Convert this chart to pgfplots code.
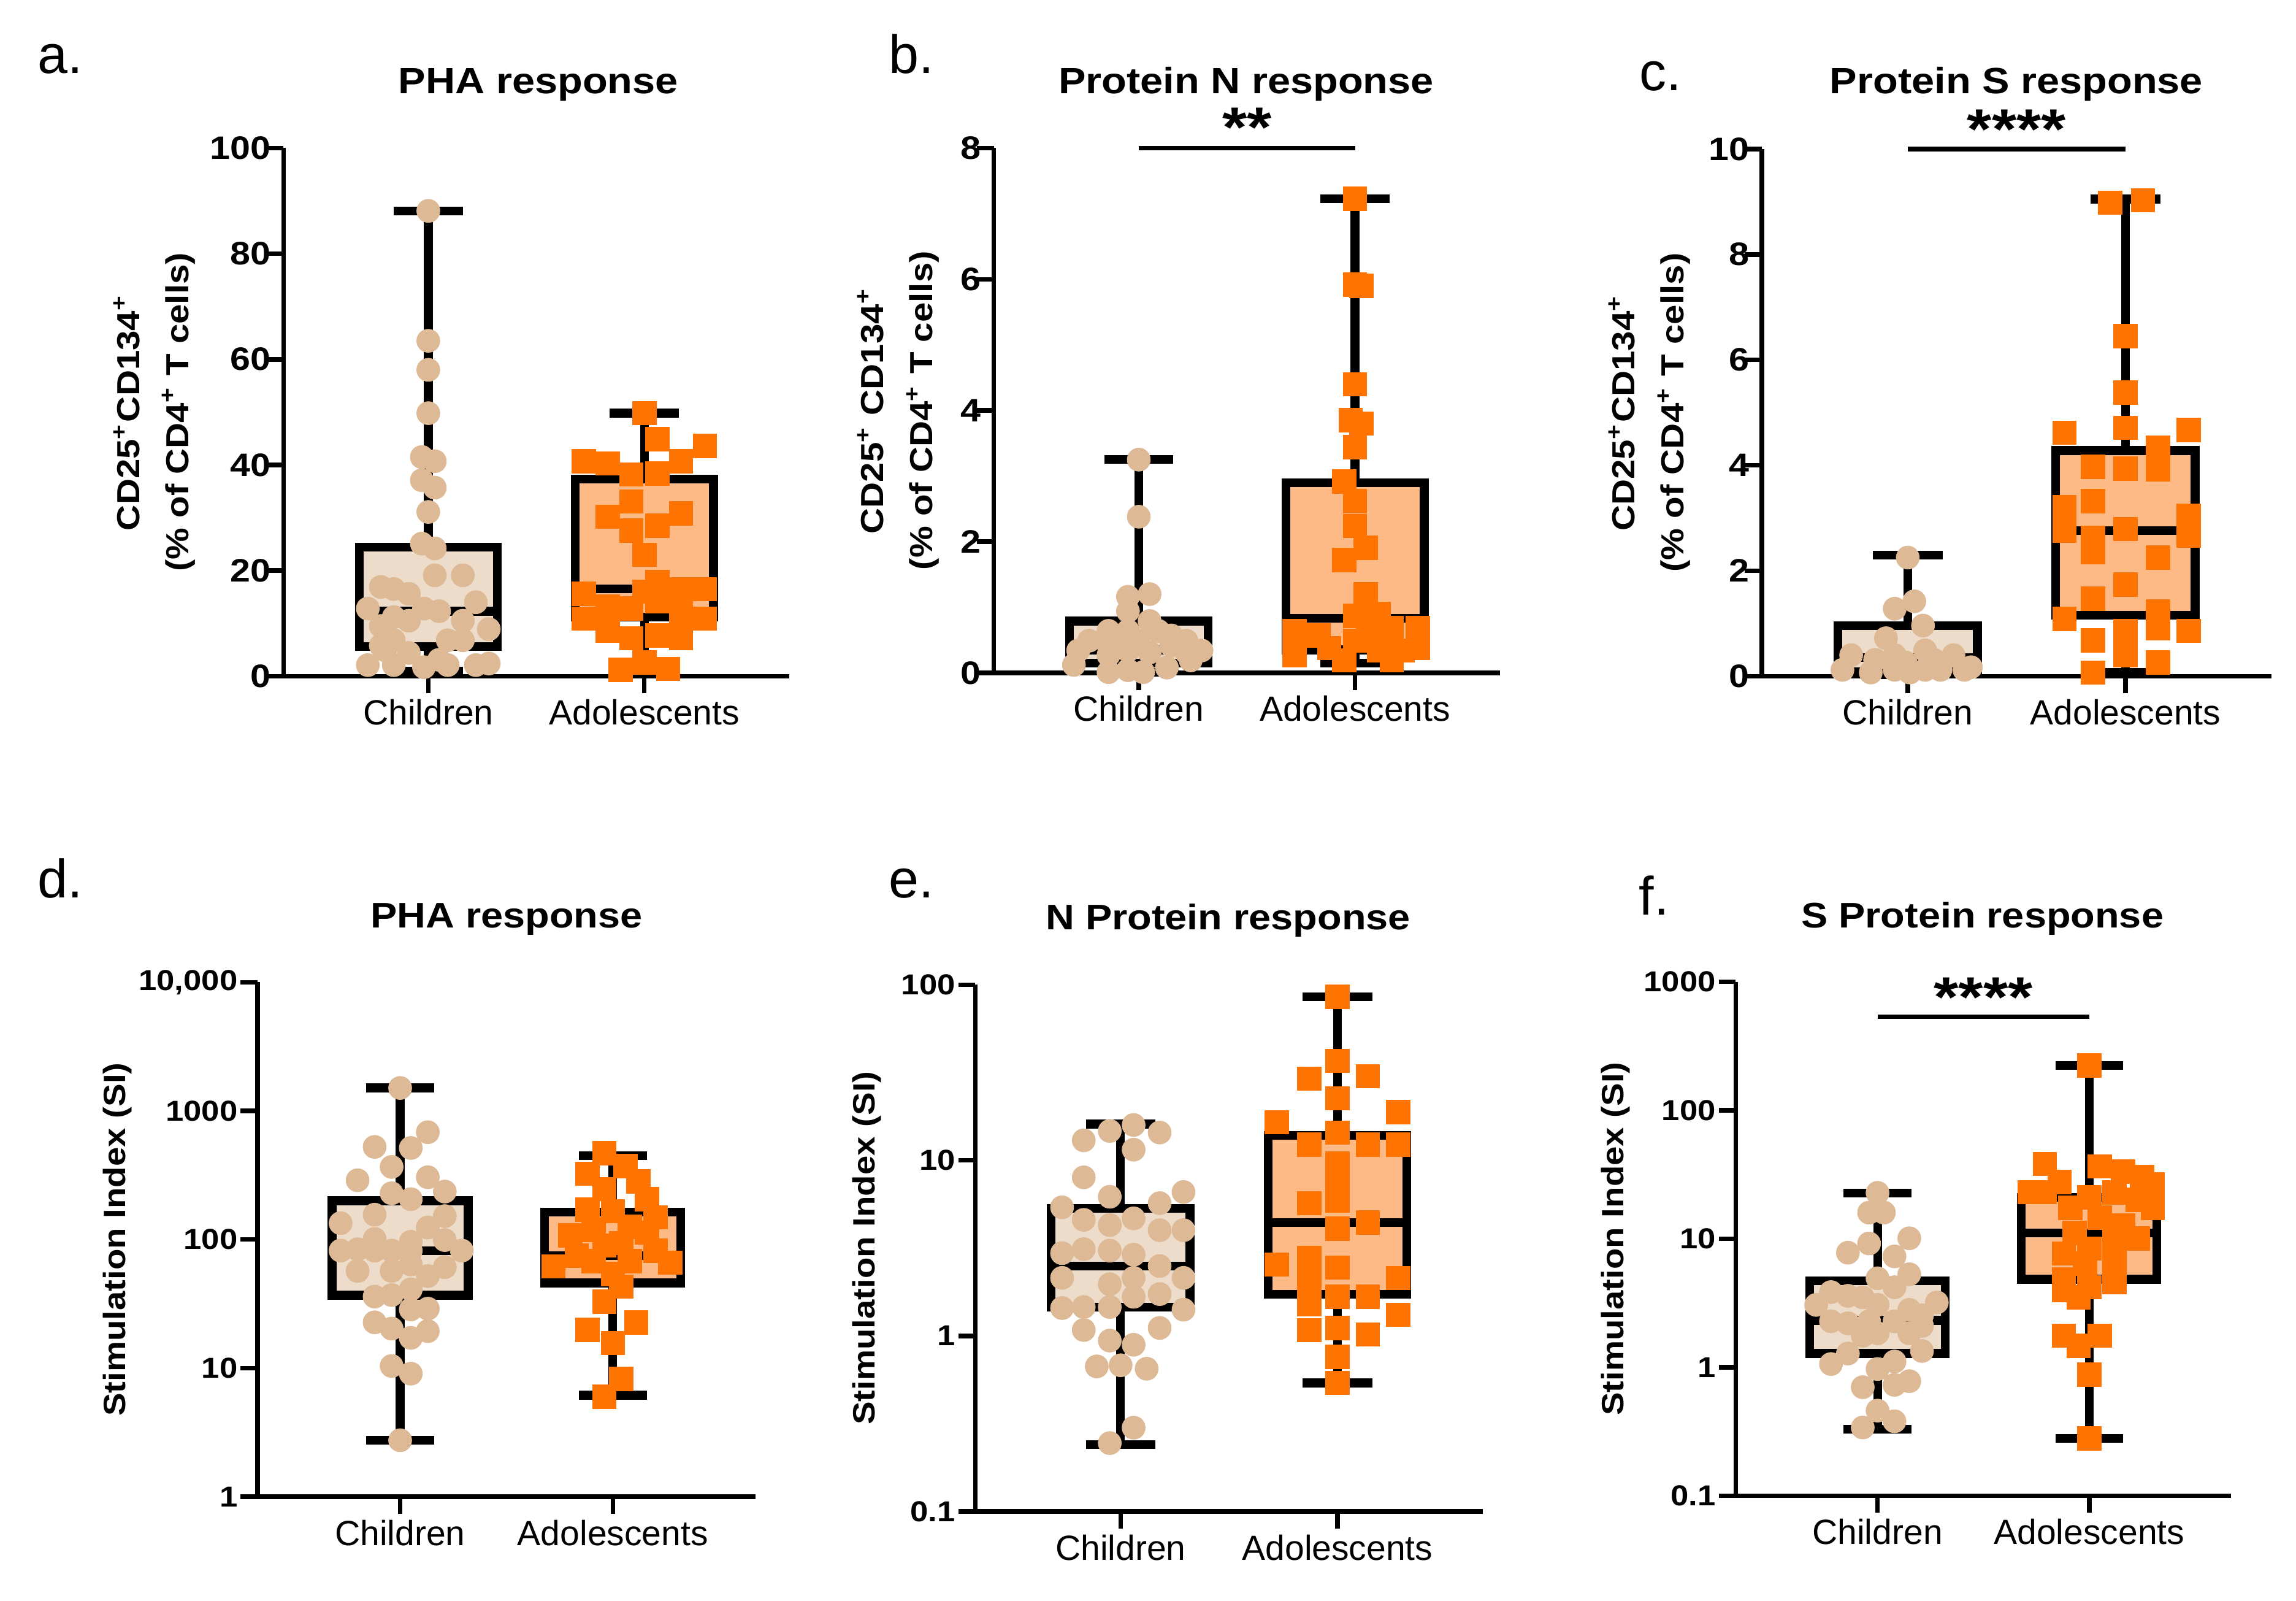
\documentclass[border=0pt]{standalone}
\usepackage{fontspec}
\setmainfont{Liberation Sans}[BoldFeatures={FakeStretch=1.12}]
\usepackage{pgfplots}
\pgfplotsset{compat=1.18}
\usepgfplotslibrary{statistics}

\definecolor{kidc}{HTML}{DDB995}
\definecolor{kidfill}{HTML}{EEDCCA}
\definecolor{adoc}{HTML}{FF7300}
\definecolor{adofill}{HTML}{FDB986}

\pgfplotsset{
  panel/.style={
    scale only axis, anchor=south west, clip=false,
    axis x line=bottom, axis y line=left,
    axis line style={-, line width=0.9pt},
    tick style={black, line width=0.9pt},
    tick align=outside, major tick length=3.3pt,
    enlargelimits=false,
    xmin=-0.67, xmax=1.67, xtick={0,1}, xticklabels={Children,Adolescents},
    xticklabel style={font=\fontsize{6.8}{8}\selectfont, inner sep=1pt},
    /pgf/number format/assume math mode=true,
    ylabel style={align=center, anchor=center},
    boxplot/draw direction=y,
    boxplot/box extend=0.64,
    boxplot/whisker extend=0.32,
  },
  toprow/.style={
    yticklabel style={font=\bfseries\fontsize{6.3}{7.5}\selectfont, inner sep=0.4pt, xshift=0.05cm},
    ylabel style={font=\bfseries\fontsize{6.2}{9.5}\selectfont},
  },
  lowrow/.style={
    yminorticks=false,
    yticklabel style={font=\bfseries\fontsize{5.6}{6.5}\selectfont, inner sep=0.4pt},
    ylabel style={font=\bfseries\fontsize{6.0}{7}\selectfont},
    ylabel={Stimulation Index (SI)},
  },
  kidbx/.style={draw=black, line width=1.7pt, fill=kidfill},
  adobx/.style={draw=black, line width=1.7pt, fill=adofill},
  kidpts/.style={only marks, mark=*, mark size=2.25pt, draw=kidc, fill=kidc,
    mark options={solid, draw=kidc, fill=kidc, line width=0.1pt}},
  adopts/.style={only marks, mark=square*, mark size=2.3pt, draw=adoc, fill=adoc,
    mark options={solid, draw=adoc, fill=adoc, line width=0.1pt}},
}

\begin{document}
\begin{tikzpicture}
\useasboundingbox (0,0) rectangle (15.68,10.93);

% ---------- a. PHA response (% of CD4+) ----------
\begin{axis}[panel, toprow, at={(1.9365cm,6.3134cm)}, width=3.4522cm, height=3.6059cm,
  ymin=0, ymax=100, ytick={0,20,...,100},
  ylabel={CD25\textsuperscript{+}CD134\textsuperscript{+}\\(\% of CD4\textsuperscript{+} T cells)},
  ylabel style={at={(axis description cs:-0.256,0.5)}}]
\addplot[kidbx, boxplot prepared={draw position=0, lower whisker=1, lower quartile=5.6, median=12.3, upper quartile=24.4, upper whisker=88.1}] coordinates {};
\addplot[adobx, boxplot prepared={draw position=1, lower whisker=1.2, lower quartile=11.2, median=16.5, upper quartile=37.3, upper whisker=49.8}] coordinates {};
\addplot[kidpts] coordinates {
(0,88.1) (0,63.5) (0,58.0) (0,49.8) (-0.03,41.5) (0.03,40.7) (-0.03,37.1) (0.03,35.7)
(0,31.1) (-0.03,25.1) (0.03,24.2) (0.03,19.1) (0.16,19.1) (-0.22,16.9) (-0.16,16.5)
(-0.09,15.6) (0.22,14.0) (-0.28,12.8) (-0.02,12.8) (0.05,12.3) (-0.22,9.5) (-0.16,11.2)
(-0.09,10.5) (0.16,10.5) (0.28,8.9) (0.09,6.8) (0.16,6.8) (-0.22,5.8) (-0.16,6.8)
(-0.2,4.9) (-0.09,4.4) (-0.28,2.1) (-0.16,2.1) (-0.02,1.7) (0.09,2.1) (0.22,2.1)
(0.28,2.4) (0.05,3.1)
};
\addplot[adopts] coordinates {
(1,49.8) (1.06,44.9) (1.28,43.6) (0.72,40.7) (0.83,40.3) (1.17,40.7) (0.94,38.2)
(1.06,38.4) (0.94,33.1) (0.83,30.2) (1.17,30.8) (0.94,27.6) (1.06,28.5) (1,23.0)
(1.06,17.9) (0.72,15.6) (1,16.0) (1.17,16.5) (1.28,16.5) (0.83,13.2) (0.94,12.8)
(1.06,14.2) (1.17,13.2) (0.72,10.9) (1.17,11.2) (1.28,10.9) (0.83,8.6) (0.94,7.2)
(1.06,7.7) (1.17,7.2) (1,2.6) (0.89,1.2) (1.11,1.4)
};
\end{axis}

% ---------- b. Protein N response (% of CD4+) ----------
\begin{axis}[panel, toprow, at={(6.7875cm,6.3364cm)}, width=3.4555cm, height=3.5828cm,
  ymin=0, ymax=8, ytick={0,2,...,8},
  ylabel={CD25\textsuperscript{+} CD134\textsuperscript{+}\\(\% of CD4\textsuperscript{+} T cells)},
  ylabel style={at={(axis description cs:-0.189,0.5)}}]
\addplot[kidbx, boxplot prepared={draw position=0, lower whisker=0.01, lower quartile=0.15, median=0.35, upper quartile=0.79, upper whisker=3.25}] coordinates {};
\addplot[adobx, boxplot prepared={draw position=1, lower whisker=0.15, lower quartile=0.35, median=0.83, upper quartile=2.9, upper whisker=7.23}] coordinates {};
\addplot[kidpts] coordinates {
(0,3.25) (0,2.38) (-0.05,1.16) (0.05,1.2) (-0.05,0.94) (0.05,0.79) (-0.14,0.64)
(-0.05,0.64) (0.15,0.57) (-0.23,0.49) (-0.14,0.42) (0,0.49) (0.15,0.42) (0.22,0.49)
(-0.28,0.34) (-0.14,0.27) (-0.05,0.34) (0.05,0.31) (0.22,0.31) (0.29,0.34) (-0.3,0.12)
(-0.14,0.01) (-0.05,0.04) (0.02,0.01) (0.13,0.08) (0.24,0.19) (-0.1,0.53) (0.09,0.64)
};
\addplot[adopts] coordinates {
(1,7.23) (1,5.92) (1.03,5.9) (1,4.4) (0.98,3.85) (1.03,3.8) (1,3.44) (0.95,2.92)
(1,2.62) (1,2.24) (1.05,1.91) (0.95,1.72) (1.05,1.2) (1.11,0.9) (1,0.87) (0.72,0.64)
(1.17,0.68) (1.29,0.68) (0.83,0.57) (1.06,0.57) (0.72,0.34) (0.88,0.38) (1,0.49)
(1.11,0.34) (1.22,0.34) (1.29,0.38) (0.95,0.19) (1.17,0.19) (0.72,0.27)
};
\draw[line width=0.9pt] (axis cs:0,8) -- (axis cs:1,8);
\node[anchor=base, font=\bfseries\fontsize{11}{12}\selectfont, yshift=0.01cm] at (axis cs:0.5,8) {**};
\end{axis}

% ---------- c. Protein S response (% of CD4+) ----------
\begin{axis}[panel, toprow, at={(12.0321cm,6.3134cm)}, width=3.4794cm, height=3.5996cm,
  ymin=0, ymax=10, ytick={0,2,...,10},
  ylabel={CD25\textsuperscript{+}CD134\textsuperscript{+}\\(\% of CD4\textsuperscript{+} T cells)},
  ylabel style={at={(axis description cs:-0.221,0.5)}}]
\addplot[kidbx, boxplot prepared={draw position=0, lower whisker=0.03, lower quartile=0.08, median=0.35, upper quartile=0.96, upper whisker=2.3}] coordinates {};
\addplot[adobx, boxplot prepared={draw position=1, lower whisker=0.07, lower quartile=1.16, median=2.76, upper quartile=4.28, upper whisker=9.05}] coordinates {};
\addplot[kidpts] coordinates {
(0,2.25) (0.03,1.42) (-0.06,1.28) (0.07,0.96) (-0.1,0.72) (-0.26,0.4) (-0.06,0.4)
(0.08,0.49) (0.21,0.4) (-0.3,0.12) (-0.17,0.07) (-0.06,0.12) (0.01,0.07) (0.08,0.12)
(0.15,0.12) (0.26,0.12) (0.29,0.17) (-0.15,0.31) (-0.01,0.26) (0.12,0.31)
};
\addplot[adopts] coordinates {
(0.93,8.98) (1.08,9.03) (1,6.45) (1,5.38) (0.72,4.62) (1,4.71) (1.29,4.67) (1.15,4.34)
(0.85,3.97) (1,3.94) (1.15,3.92) (0.72,3.21) (0.85,3.32) (1.29,3.04) (0.72,2.76)
(1,2.79) (1.29,2.67) (0.85,2.63) (0.85,2.35) (1.15,2.25) (1,1.74) (0.85,1.47)
(0.72,1.09) (1.15,1.23) (1,0.86) (1.15,0.91) (1.29,0.86) (0.85,0.68) (1,0.4)
(0.85,0.07) (1.15,0.26)
};
\draw[line width=0.9pt] (axis cs:0,10) -- (axis cs:1,10);
\node[anchor=base, font=\bfseries\fontsize{11}{12}\selectfont, yshift=0cm] at (axis cs:0.5,10) {****};
\end{axis}

% ---------- d. PHA response (SI) ----------
\begin{axis}[panel, lowrow, ymode=log, at={(1.7594cm,0.7111cm)}, width=3.399cm, height=3.5125cm,
  ymin=1, ymax=10000, ytick={1,10,100,1000,10000}, yticklabels={1,10,100,1000,{10,000}},
  ylabel style={at={(axis description cs:-0.282,0.5)}}]
\addplot[kidbx, boxplot prepared={draw position=0, lower whisker=2.75, lower quartile=36.9, median=82, upper quartile=200, upper whisker=1508}] coordinates {};
\addplot[adobx, boxplot prepared={draw position=1, lower whisker=6.16, lower quartile=46, median=75, upper quartile=163, upper whisker=449}] coordinates {};
\addplot[kidpts] coordinates {
(0,1508) (0.13,683) (-0.12,525) (0.05,515) (-0.04,367) (-0.2,289) (0.13,305) (0.21,236)
(-0.04,229) (0.05,206) (-0.12,156) (0.21,152) (-0.28,134) (0.13,124) (-0.12,101)
(0.05,96) (0.21,99) (-0.28,82) (-0.2,84) (-0.12,82) (-0.04,82) (0.05,82) (0.29,82)
(-0.2,57) (-0.04,57) (0.05,64) (0.13,52) (0.21,61) (-0.12,36) (-0.04,37) (0.05,41)
(0.05,28.6) (0.13,29) (-0.12,22.7) (-0.04,20.3) (0.05,17.2) (0.13,19.4) (-0.04,10.4)
(0.05,9.06) (0,2.75)
};
\addplot[adopts] coordinates {
(0.96,470) (1.06,373) (0.88,325) (1.12,284) (0.96,247) (1.16,206) (0.88,171) (1,166)
(1.2,149) (0.8,108) (0.91,119) (1.08,126) (1.16,113) (0.96,90) (1.04,94) (0.72,62)
(0.83,75) (1.2,82) (0.91,68) (1.08,68) (1.27,66) (1,54) (1.04,43) (0.96,33)
(0.88,19.8) (1.11,22.7) (1,15.7) (1.04,8.26) (0.96,6.0)
};
\end{axis}

% ---------- e. N Protein response (SI) ----------
\begin{axis}[panel, lowrow, ymode=log, at={(6.6606cm,0.6110cm)}, width=3.4656cm, height=3.5958cm,
  ymin=0.1, ymax=100, ytick={0.1,1,10,100}, yticklabels={0.1,1,10,100},
  ylabel style={at={(axis description cs:-0.214,0.5)}}]
\addplot[kidbx, boxplot prepared={draw position=0, lower whisker=0.24, lower quartile=1.46, median=2.5, upper quartile=5.31, upper whisker=16.1}] coordinates {};
\addplot[adobx, boxplot prepared={draw position=1, lower whisker=0.54, lower quartile=1.73, median=4.43, upper quartile=13.9, upper whisker=85.6}] coordinates {};
\addplot[kidpts] coordinates {
(-0.05,14.7) (0.06,15.9) (0.18,14.4) (-0.17,13.0) (0.06,11.5) (-0.17,8.0) (-0.05,6.2)
(-0.27,5.4) (0.18,5.7) (0.29,6.6) (-0.17,4.58) (-0.05,4.28) (0.06,4.67) (0.18,4.0)
(0.29,4.0) (-0.27,2.96) (-0.17,3.12) (-0.05,3.06) (0.06,2.9) (0.18,2.5) (-0.27,2.14)
(-0.05,1.97) (0.06,2.14) (0.29,2.14) (0.18,1.73) (0.06,1.67) (-0.27,1.44) (-0.17,1.46)
(-0.05,1.46) (0.29,1.41) (0.18,1.11) (-0.17,1.08) (-0.05,0.94) (0.06,0.89) (-0.11,0.67)
(0,0.68) (0.12,0.65) (0.06,0.3) (-0.05,0.245)
};
\addplot[adopts] coordinates {
(1,85.6) (1,36.9) (0.87,29.2) (1.14,30.2) (1,22.6) (0.72,16.5) (1.28,18.8) (1,14.4)
(0.87,12.3) (1.14,12.3) (1.28,12.3) (1,9.6) (1,7.85) (0.87,5.7) (1,5.9) (1,4.08)
(1.14,4.43) (0.87,2.77) (0.72,2.55) (1,2.45) (0.87,2.04) (1.28,2.14) (1,1.67)
(1.14,1.67) (0.87,1.51) (1.28,1.32) (0.87,1.08) (1,1.11) (1.14,1.02) (1,0.76) (1,0.54)
};
\end{axis}

% ---------- f. S Protein response (SI) ----------
\begin{axis}[panel, lowrow, ymode=log, at={(11.8537cm,0.7178cm)}, width=3.3822cm, height=3.5087cm,
  ymin=0.1, ymax=1000, ytick={0.1,1,10,100,1000}, yticklabels={0.1,1,10,100,1000},
  ylabel style={at={(axis description cs:-0.243,0.5)}}]
\addplot[kidbx, boxplot prepared={draw position=0, lower whisker=0.33, lower quartile=1.28, median=2.32, upper quartile=4.7, upper whisker=22.7}] coordinates {};
\addplot[adobx, boxplot prepared={draw position=1, lower whisker=0.28, lower quartile=4.84, median=11.1, upper quartile=21.1, upper whisker=223}] coordinates {};
\addplot[kidpts] coordinates {
(0,22.8) (-0.04,16) (0.03,16) (-0.14,7.8) (-0.04,9.2) (0.08,7.3) (0.15,10.1) (0,4.93)
(0.15,5.3) (0.08,4.2) (-0.22,3.85) (-0.14,3.6) (-0.07,3.5) (-0.29,3.06) (0,3.06)
(0.28,3.2) (0.15,2.8) (0.21,2.54) (-0.22,2.28) (-0.14,2.2) (-0.04,2.28) (0.08,2.28)
(0.21,2.1) (-0.07,1.76) (0,1.84) (0.15,1.84) (-0.14,1.28) (0.21,1.34) (-0.22,1.06)
(0.08,1.11) (0,0.97) (-0.07,0.7) (0.08,0.73) (0.15,0.78) (0,0.46) (-0.07,0.34) (0.08,0.38)
};
\addplot[adopts] coordinates {
(1,223) (0.79,38.3) (1.05,36.6) (1.16,33.4) (1.25,30.4) (1.3,26.5) (0.86,27.7)
(0.72,23.1) (0.79,23.1) (1,21.1) (1.12,23) (1.23,20.1) (0.91,17.5) (1.3,17.5)
(1.05,14.6) (1.16,12.7) (0.93,11.1) (1.12,10.6) (1.23,10.1) (1,8.4) (0.88,7.7)
(1.12,7) (0.98,6.4) (0.88,4.84) (1.12,4.6) (1,4.2) (0.88,4.0) (0.95,3.5) (0.88,1.76)
(1.05,1.76) (0.95,1.47) (1,0.88) (1,0.28)
};
\draw[line width=0.9pt] (axis cs:0,535) -- (axis cs:1,535);
\node[anchor=base, font=\bfseries\fontsize{11}{12}\selectfont, yshift=0cm] at (axis cs:0.5,535) {****};
\end{axis}

% ---------- titles and panel letters ----------
\begin{scope}[every node/.style={anchor=base, font=\bfseries\fontsize{7.1}{8.5}\selectfont}]
\node at (3.677,10.290) {PHA response};
\node at (8.510,10.290) {Protein N response};
\node at (13.770,10.290) {Protein S response};
\end{scope}
\begin{scope}[every node/.style={anchor=base, font=\bfseries\fontsize{6.9}{8.3}\selectfont}]
\node at (3.4593,4.5942) {PHA response};
\node at (8.3869,4.5838) {N Protein response};
\node at (13.5381,4.5942) {S Protein response};
\end{scope}
\begin{scope}[every node/.style={anchor=base west, inner sep=0pt, font=\fontsize{10.5}{12}\selectfont}]
\node at (0.251,10.428) {a.};
\node at (6.063,10.430) {b.};
\node at (11.188,10.313) {c.};
\node at (0.2504,4.8011) {d.};
\node at (6.0630,4.8011) {e.};
\node at (11.1861,4.6843) {f.};
\end{scope}
\end{tikzpicture}
\end{document}
